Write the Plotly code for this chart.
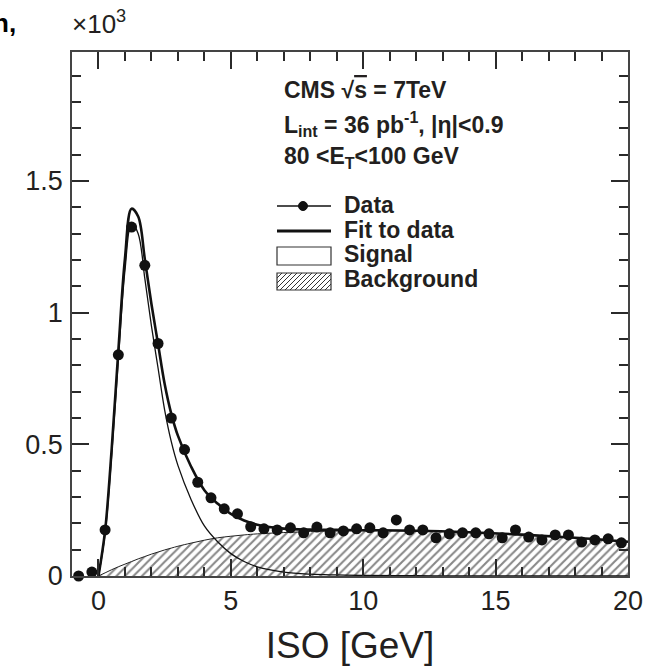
import plotly.graph_objects as go

# ---------------- data (values in units of 10^3) ----------------
iso_bins = [-0.75, -0.25, 0.25, 0.75, 1.25, 1.75, 2.25, 2.75, 3.25, 3.75,
            4.25, 4.75, 5.25, 5.75, 6.25, 6.75, 7.25, 7.75, 8.25, 8.75,
            9.25, 9.75, 10.25, 10.75, 11.25, 11.75, 12.25, 12.75, 13.25, 13.75,
            14.25, 14.75, 15.25, 15.75, 16.25, 16.75, 17.25, 17.75, 18.25, 18.75,
            19.25, 19.75]
data_counts = [0.000, 0.015, 0.175, 0.840, 1.325, 1.180, 0.883, 0.600, 0.480, 0.356,
               0.297, 0.255, 0.236, 0.187, 0.179, 0.175, 0.183, 0.164, 0.186, 0.164,
               0.171, 0.179, 0.183, 0.164, 0.213, 0.175, 0.175, 0.145, 0.160, 0.164,
               0.164, 0.160, 0.145, 0.175, 0.148, 0.137, 0.156, 0.156, 0.129, 0.137,
               0.141, 0.126]

fit_x = [0, 0.25, 0.5, 0.75, 1.0, 1.25, 1.5, 1.75, 2.0, 2.25, 2.5, 2.75, 3.0,
         3.5, 4.0, 4.5, 5.0, 5.5, 6.0, 7.0, 8.0, 9.0, 10, 12, 14, 16, 18, 20]
signal = [0, 0.16, 0.46, 0.82, 1.16, 1.34, 1.30, 1.13, 0.95, 0.79, 0.63, 0.51, 0.42,
          0.29, 0.19, 0.13, 0.085, 0.055, 0.035, 0.015, 0.007, 0.004, 0.002, 0.001,
          0, 0, 0, 0]
background = [0, 0.012, 0.024, 0.035, 0.045, 0.055, 0.065, 0.074, 0.083, 0.091, 0.099,
              0.106, 0.113, 0.125, 0.136, 0.145, 0.151, 0.156, 0.160, 0.165, 0.169,
              0.171, 0.172, 0.171, 0.166, 0.157, 0.145, 0.130]
fit_total = [s + b for s, b in zip(signal, background)]

x_tick_step = 5
y_tick_step = 0.5

# ---------------- figure ----------------
W, H = 652, 666
L, R, T, B = 72, 24, 52, 90
PW, PH = W - L - R, H - T - B


def PX(x):
    return (x - L) / PW


def PY(y):
    return (H - B - y) / PH


FONT = "Liberation Sans, Arial, sans-serif"
TXT = "#231f20"
AX = "#2a2a2a"

fig = go.Figure()
fig.add_trace(go.Scatter(
    x=fit_x, y=background, mode="lines", line=dict(color="#222", width=1, shape="spline"),
    fill="tozeroy", fillcolor="white",
    fillpattern=dict(shape="/", size=6, solidity=0.35, fgcolor="#111", bgcolor="white"),
    showlegend=False, hoverinfo="skip"))
fig.add_trace(go.Scatter(
    x=fit_x, y=signal, mode="lines", line=dict(color="#111", width=1.3, shape="spline"),
    showlegend=False))
fig.add_trace(go.Scatter(
    x=fit_x, y=fit_total, mode="lines", line=dict(color="#111", width=2.6, shape="spline"),
    showlegend=False))
fig.add_trace(go.Scatter(
    x=iso_bins, y=data_counts, mode="markers", marker=dict(color="#111", size=11),
    cliponaxis=False, showlegend=False))

axis_common = dict(
    showline=True, linecolor="#444", linewidth=1.5, mirror="ticks",
    ticks="inside", ticklen=17, tickwidth=1.5, tickcolor=AX,
    showgrid=False, zeroline=False, tickmode="linear",
    tickfont=dict(family=FONT, size=27, color=TXT),
)
fig.update_xaxes(range=[-1, 20], tick0=0, dtick=x_tick_step,
                 minor=dict(tickmode="linear", dtick=1, tick0=0, ticklen=9, ticks="inside",
                            tickcolor=AX, tickwidth=1.5, showgrid=False),
                 title=dict(text="ISO [GeV]", font=dict(family=FONT, size=37, color=TXT), standoff=18),
                 **axis_common)
fig.update_yaxes(range=[0, 1.99], tick0=0, dtick=y_tick_step, ticklabelstandoff=2,
                 minor=dict(tickmode="linear", dtick=0.1, tick0=0, ticklen=9, ticks="inside",
                            tickcolor=AX, tickwidth=1.5, showgrid=False),
                 **axis_common)

shapes = []
ann = []

# top-left texts
ann.append(dict(x=PX(70), y=PY(41), xref="paper", yref="paper", xanchor="left", yanchor="bottom",
                text="×10<sup>3</sup>", showarrow=False, font=dict(family=FONT, size=26, color=TXT)))
ann.append(dict(x=PX(18), y=PY(40), xref="paper", yref="paper", xanchor="right", yanchor="bottom",
                text="n,", showarrow=False, font=dict(family=FONT, size=26, color="black", weight="bold")))

# info block
info = [("CMS √<span style='text-decoration:overline'>s</span> = 7TeV", 90),
        ("L<sub>int</sub> = 36 pb<sup>-1</sup>, |η|&lt;0.9", 124),
        ("80 &lt;E<sub>T</sub>&lt;100 GeV", 158)]
for t, yc in info:
    ann.append(dict(x=PX(282), y=PY(yc), xref="paper", yref="paper", xanchor="left", yanchor="middle",
                    text=t, showarrow=False,
                    font=dict(family=FONT, size=23, color=TXT, weight="bold")))

# legend
leg = [("Data", 205), ("Fit to data", 230), ("Signal", 254), ("Background", 279)]
for t, yc in leg:
    ann.append(dict(x=PX(342), y=PY(yc), xref="paper", yref="paper", xanchor="left", yanchor="middle",
                    text=t, showarrow=False,
                    font=dict(family=FONT, size=23, color=TXT, weight="bold")))

x0s, x1s = 277, 331
shapes.append(dict(type="line", xref="paper", yref="paper", x0=PX(x0s), x1=PX(x1s),
                   y0=PY(206), y1=PY(206), line=dict(color="#111", width=1.5)))
shapes.append(dict(type="circle", xref="paper", yref="paper", xsizemode="pixel", ysizemode="pixel",
                   xanchor=PX(303), yanchor=PY(206), x0=-4.5, x1=4.5, y0=-4.5, y1=4.5,
                   fillcolor="#111", line=dict(color="#111", width=1)))
shapes.append(dict(type="line", xref="paper", yref="paper", x0=PX(x0s), x1=PX(x1s),
                   y0=PY(231), y1=PY(231), line=dict(color="#111", width=2.8)))
shapes.append(dict(type="rect", xref="paper", yref="paper", x0=PX(x0s), x1=PX(x1s),
                   y0=PY(265), y1=PY(247), line=dict(color="#333", width=1.2), fillcolor="white"))
by0, by1 = 290, 273
hb = by0 - by1
c = -hb
while c < (x1s - x0s):
    xa, ya = x0s + c, by0
    xb, yb = x0s + c + hb, by1
    if xa < x0s:
        ya = by0 - (x0s - xa)
        xa = x0s
    if xb > x1s:
        yb = by1 + (xb - x1s)
        xb = x1s
    shapes.append(dict(type="line", xref="paper", yref="paper", x0=PX(xa), y0=PY(ya),
                       x1=PX(xb), y1=PY(yb), line=dict(color="#333", width=1)))
    c += 5
shapes.append(dict(type="rect", xref="paper", yref="paper", x0=PX(x0s), x1=PX(x1s),
                   y0=PY(by0), y1=PY(by1), line=dict(color="#333", width=1.2)))

fig.update_layout(
    width=W, height=H, margin=dict(l=L, r=R, t=T, b=B, autoexpand=False),
    paper_bgcolor="white", plot_bgcolor="white",
    shapes=shapes, annotations=ann, showlegend=False,
)
fig.write_html("out.html")
